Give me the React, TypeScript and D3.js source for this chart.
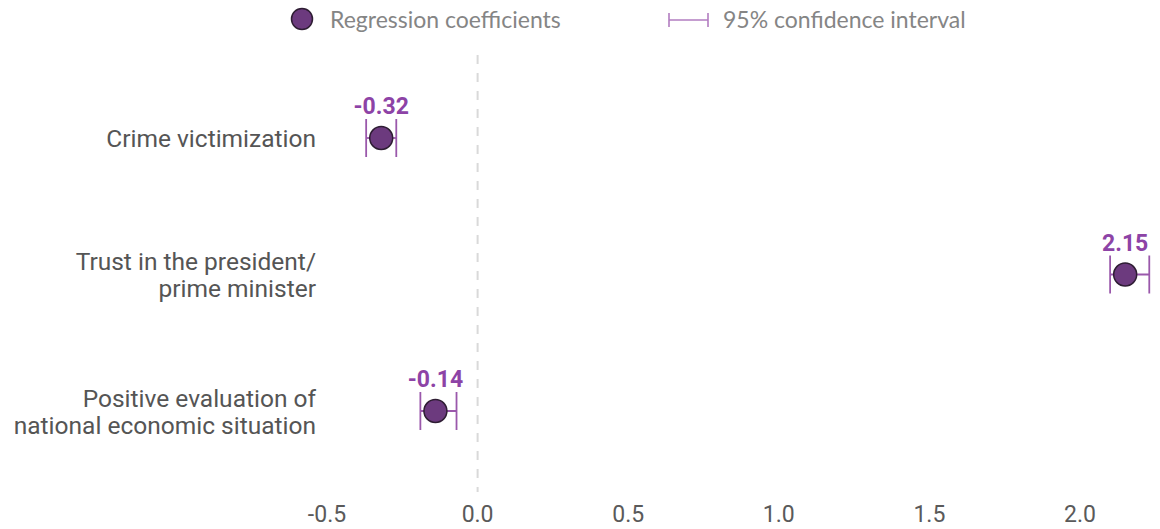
import React, { useEffect, useRef } from "react";
import * as d3 from "d3";

const categories = [
  ["Crime victimization"],
  ["Trust in the president/", "prime minister"],
  ["Positive evaluation of", "national economic situation"],
];
const coefficients = [-0.32, 2.15, -0.14];
const ciLower = [-0.37, 2.1, -0.19];
const ciUpper = [-0.27, 2.23, -0.07];
const xTicks = [-0.5, 0, 0.5, 1.0, 1.5, 2.0];

const fmt = (spec: string) => (d: number) => d3.format(spec)(d).replace("\u2212", "-");

const App: React.FC = () => {
  const ref = useRef<SVGSVGElement>(null);

  useEffect(() => {
    if (!ref.current) return;
    const svg = d3.select(ref.current);
    svg.selectAll("*").remove();

    const x = d3.scaleLinear().domain([-0.5, 2.0]).range([327, 1080]);
    const y = d3
      .scalePoint<number>()
      .domain(d3.range(categories.length))
      .range([138, 411]);

    const font = "Roboto, 'Noto Sans', sans-serif";
    const purple = "#6c3a7e";
    const whisker = "#9a58ab";

    // legend
    const legend = svg.append("g").attr("font-family", "Lato, sans-serif");
    legend
      .append("circle")
      .attr("cx", 302)
      .attr("cy", 19)
      .attr("r", 10.5)
      .attr("fill", purple)
      .attr("stroke", "#2e1d33")
      .attr("stroke-width", 1.5);
    legend
      .append("text")
      .attr("x", 330)
      .attr("y", 28)
      .attr("font-size", 23)
      .attr("fill", "#858585")
      .text("Regression coefficients");
    const ci = legend.append("g").attr("stroke", "#b27cc0").attr("stroke-width", 1.6);
    ci.append("line").attr("x1", 669).attr("x2", 708).attr("y1", 20).attr("y2", 20);
    ci.append("line").attr("x1", 669).attr("x2", 669).attr("y1", 13).attr("y2", 27);
    ci.append("line").attr("x1", 708).attr("x2", 708).attr("y1", 13).attr("y2", 27);
    legend
      .append("text")
      .attr("x", 723)
      .attr("y", 28)
      .attr("font-size", 23)
      .attr("fill", "#858585")
      .text("95% confidence interval");

    // zero line
    svg
      .append("line")
      .attr("x1", x(0))
      .attr("x2", x(0))
      .attr("y1", 55)
      .attr("y2", 492)
      .attr("stroke", "#d9d9d9")
      .attr("stroke-width", 2)
      .attr("stroke-dasharray", "9,9");

    // x axis labels
    svg
      .append("g")
      .selectAll("text")
      .data(xTicks)
      .enter()
      .append("text")
      .attr("x", (d) => x(d))
      .attr("y", 522)
      .attr("text-anchor", "middle")
      .attr("font-family", font)
      .attr("font-size", 23)
      .attr("fill", "#5a5a5a")
      .text(fmt(".1f"));

    // category labels
    svg
      .append("g")
      .selectAll("text")
      .data(categories)
      .enter()
      .append("text")
      .attr("text-anchor", "end")
      .attr("font-family", font)
      .attr("font-size", 24.5)
      .attr("fill", "#555")
      .each(function (lines, i) {
        const t = d3.select(this);
        const y0 = y(i)! - ((lines.length - 1) * 27) / 2 + 9;
        lines.forEach((l, j) => {
          t.append("tspan").attr("x", 316).attr("y", y0 + j * 27).text(l);
        });
      });

    // marks
    const rows = svg
      .append("g")
      .selectAll("g")
      .data(coefficients)
      .enter()
      .append("g");

    rows
      .append("line")
      .attr("x1", (_, i) => x(ciLower[i]))
      .attr("x2", (_, i) => x(ciUpper[i]))
      .attr("y1", (_, i) => y(i)!)
      .attr("y2", (_, i) => y(i)!)
      .attr("stroke", whisker)
      .attr("stroke-width", 1.8);
    [ciLower, ciUpper].forEach((arr) => {
      rows
        .append("line")
        .attr("x1", (_, i) => x(arr[i]))
        .attr("x2", (_, i) => x(arr[i]))
        .attr("y1", (_, i) => y(i)! - 19)
        .attr("y2", (_, i) => y(i)! + 19)
        .attr("stroke", whisker)
        .attr("stroke-width", 1.8);
    });
    rows
      .append("circle")
      .attr("cx", (d) => x(d))
      .attr("cy", (_, i) => y(i)!)
      .attr("r", 11.5)
      .attr("fill", purple)
      .attr("stroke", "#2e1d33")
      .attr("stroke-width", 1.5);
    rows
      .append("text")
      .attr("x", (d) => x(d))
      .attr("y", (_, i) => y(i)! - 24)
      .attr("text-anchor", "middle")
      .attr("font-family", font)
      .attr("font-weight", 700)
      .attr("font-size", 23)
      .attr("fill", "#8d43a6")
      .text(fmt(".2f"));
  }, []);

  return (
    <div style={{ position: "fixed", left: 0, top: 0, width: 1160, height: 529, background: "#fff" }}>
      <svg ref={ref} width={1160} height={529} style={{ display: "block" }} />
    </div>
  );
};

export default App;
